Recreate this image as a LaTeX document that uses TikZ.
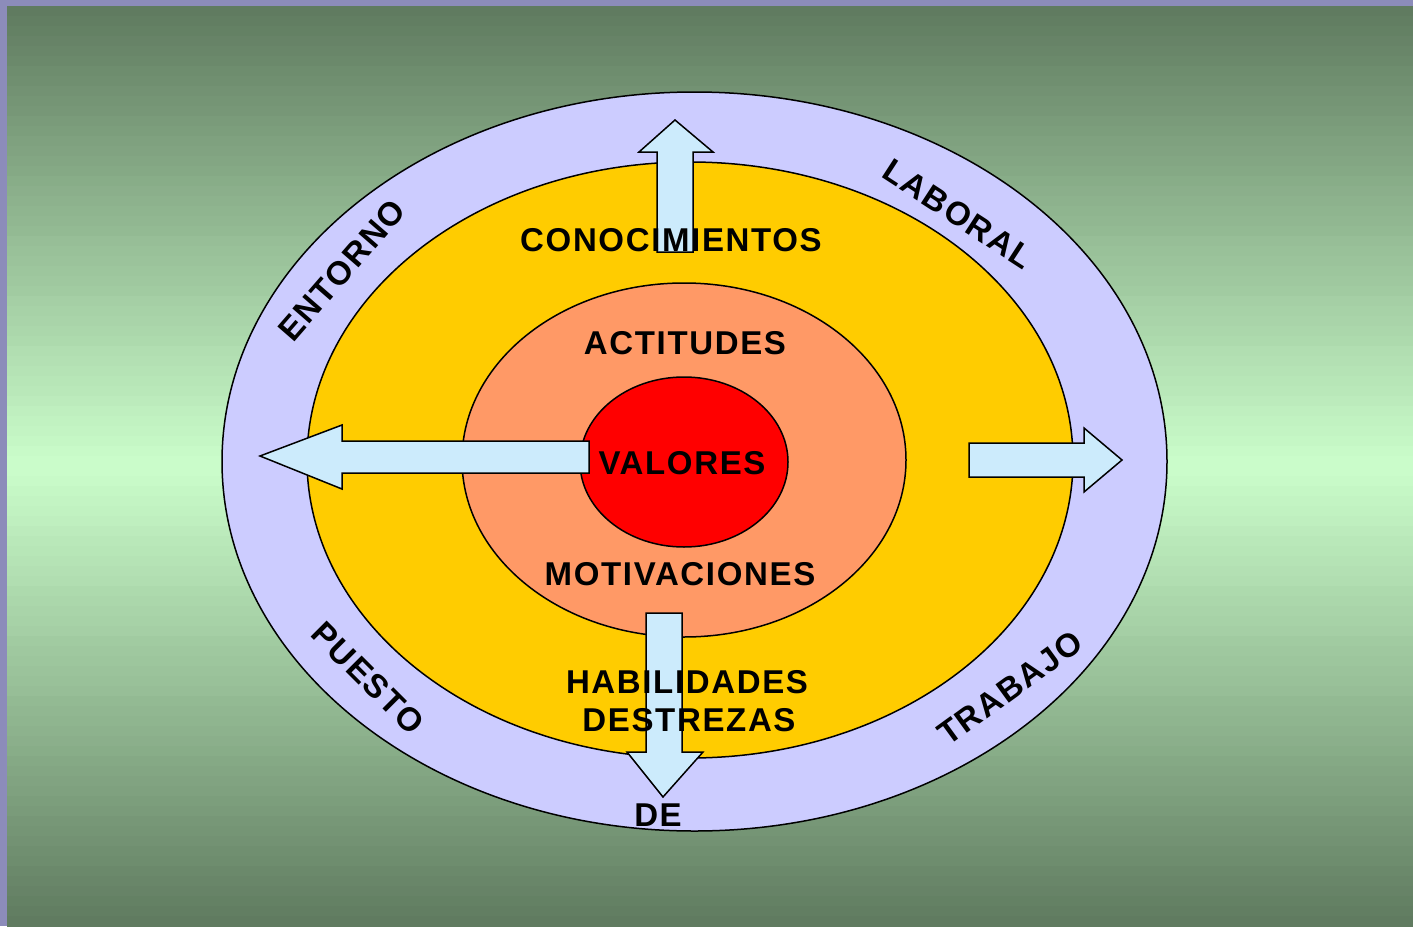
\documentclass[tikz,border=0pt]{standalone}
\usepackage{fontspec}
\setmainfont{Liberation Sans}[LetterSpace=5]
\usetikzlibrary{shapes.geometric}
\definecolor{frameviolet}{RGB}{140,140,186}
\definecolor{darkgreen}{RGB}{95,122,95}
\definecolor{lightgreen}{RGB}{204,255,204}
\definecolor{lavender}{RGB}{204,204,255}
\definecolor{gold}{RGB}{255,204,0}
\definecolor{salmon}{RGB}{255,153,102}
\definecolor{pureRed}{RGB}{255,0,0}
\definecolor{paleblue}{RGB}{204,235,252}
\tikzset{
  ring/.style={ellipse, draw=black, line width=1.5pt, inner sep=0pt},
  blockarrow/.style={draw=black, line width=1.5pt, fill=paleblue, line join=miter},
  lbl/.style={inner sep=0pt, font=\fontsize{33}{38}\selectfont\bfseries, text=black}
}
\begin{document}
\begin{tikzpicture}[x=1pt,y=-1pt]
\useasboundingbox (0,0) rectangle (1413,926);
% frame and background
\fill[frameviolet] (0,0) rectangle (1413,926);
\foreach \i in {0,...,91}{
  \pgfmathsetmacro{\yy}{6+10*\i}
  \pgfmathtruncatemacro{\tt}{max(0,100-abs(\yy+5-466)/4.6)}
  \fill[lightgreen!\tt!darkgreen] (7,\yy) rectangle (1413,\yy+10.6);
}
% rings
\node[ring, fill=lavender, minimum width=945pt, minimum height=739pt] (outer) at (694.5,461.5) {};
\node[ring, fill=gold, minimum width=766pt, minimum height=596pt] (yellow) at (690,460) {};
\node[ring, fill=salmon, minimum width=444pt, minimum height=354pt] (salmonring) at (684,460) {};
\node[ring, fill=pureRed, minimum width=208pt, minimum height=170pt] (core) at (684,462) {};
% arrows
\draw[blockarrow] (657,252) -- (657,152) -- (639,152) -- (675,120) -- (713,152) -- (693,152) -- (693,252) -- cycle;
\draw[blockarrow] (589,441) -- (342,441) -- (342,425) -- (260,456) -- (342,489) -- (342,473) -- (589,473) -- cycle;
\draw[blockarrow] (969,443) -- (1084,443) -- (1084,428) -- (1122,460) -- (1084,492) -- (1084,477) -- (969,477) -- cycle;
\draw[blockarrow] (646,613) -- (682,613) -- (682,752) -- (703,752) -- (663,797) -- (627,752) -- (646,752) -- cycle;
% labels
\node[lbl, anchor=base] (conoc) at (671,251) {CONOCIMIENTOS};
\node[lbl, anchor=base] (actit) at (685,354) {ACTITUDES};
\node[lbl, anchor=base] (valor) at (682,474) {VALORES};
\node[lbl, anchor=base] (motiv) at (680,585) {MOTIVACIONES};
\node[lbl, anchor=base] (habil) at (687,693) {HABILIDADES};
\node[lbl, anchor=base] (destr) at (689,731) {DESTREZAS};
\node[lbl, anchor=base] (de) at (658,826) {DE};
\node[lbl, rotate=49] (entorno) at (342,270) {ENTORNO};
\node[lbl, rotate=-33] (laboral) at (958,214) {LABORAL};
\node[lbl, rotate=-45] (puesto) at (368,678) {PUESTO};
\node[lbl, rotate=36] (trabajo) at (1010,688) {TRABAJO};
\end{tikzpicture}
\end{document}
